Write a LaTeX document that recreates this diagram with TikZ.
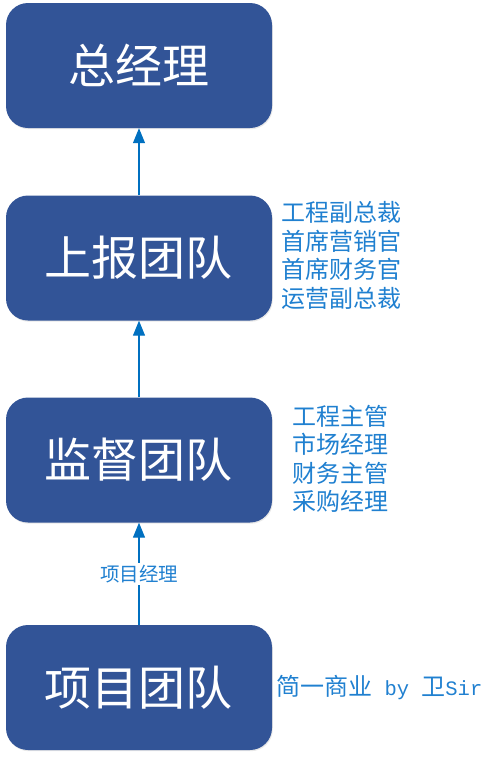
\documentclass[tikz,border=0pt]{standalone}
\usepackage{fontspec}
\setmainfont{Noto Sans CJK SC}
\newfontfamily\cjk{Noto Sans CJK SC}
\newfontfamily\monofont{Liberation Mono}
\usetikzlibrary{arrows.meta,shadows}
\definecolor{boxblue}{RGB}{50,84,151}
\definecolor{arrowblue}{RGB}{0,112,192}
\definecolor{textblue}{RGB}{32,128,208}
\tikzset{
  teambox/.style={draw=none, fill=boxblue, rounded corners=22pt,
    minimum width=266pt, minimum height=125pt, text=white, inner sep=0pt,
    font=\cjk\fontsize{47}{50}\selectfont,
    drop shadow={opacity=0.18, shadow xshift=0.8pt, shadow yshift=-1.2pt}},
  uparrow/.style={draw=arrowblue, line width=1.2pt, -{Triangle[length=15pt,width=12pt]}},
  sidelist/.style={text=textblue, align=left, anchor=west, inner sep=0pt,
    font=\cjk\fontsize{24}{28.5}\selectfont},
  edgelabel/.style={text=textblue, fill=white, inner sep=2pt,
    font=\cjk\fontsize{19.5}{21}\selectfont}
}
\begin{document}
\begin{tikzpicture}[x=1pt,y=-1pt]
\useasboundingbox (0,0) rectangle (491,761);
\node[teambox] (gm) at (139,65.5) {总经理};
\node[teambox] (report) at (139,258) {上报团队};
\node[teambox] (supervise) at (139,460) {监督团队};
\node[teambox] (project) at (139,687.5) {项目团队};
\draw[uparrow] (report.north) -- (gm.south);
\draw[uparrow] (supervise.north) -- (report.south);
\draw[uparrow] (project.north) -- node[edgelabel] (pmlabel) {项目经理} (supervise.south);
\node[sidelist] (reportlist) at (281,255.5) {工程副总裁\\首席营销官\\首席财务官\\运营副总裁};
\node[sidelist] (superlist) at (292,459) {工程主管\\市场经理\\财务主管\\采购经理};
\node[sidelist] (credit) at (276,687) {简一商业{\monofont\fontsize{20.5}{24}\selectfont\ by\ }卫{\monofont\fontsize{20.5}{24}\selectfont Sir}};
\end{tikzpicture}
\end{document}
